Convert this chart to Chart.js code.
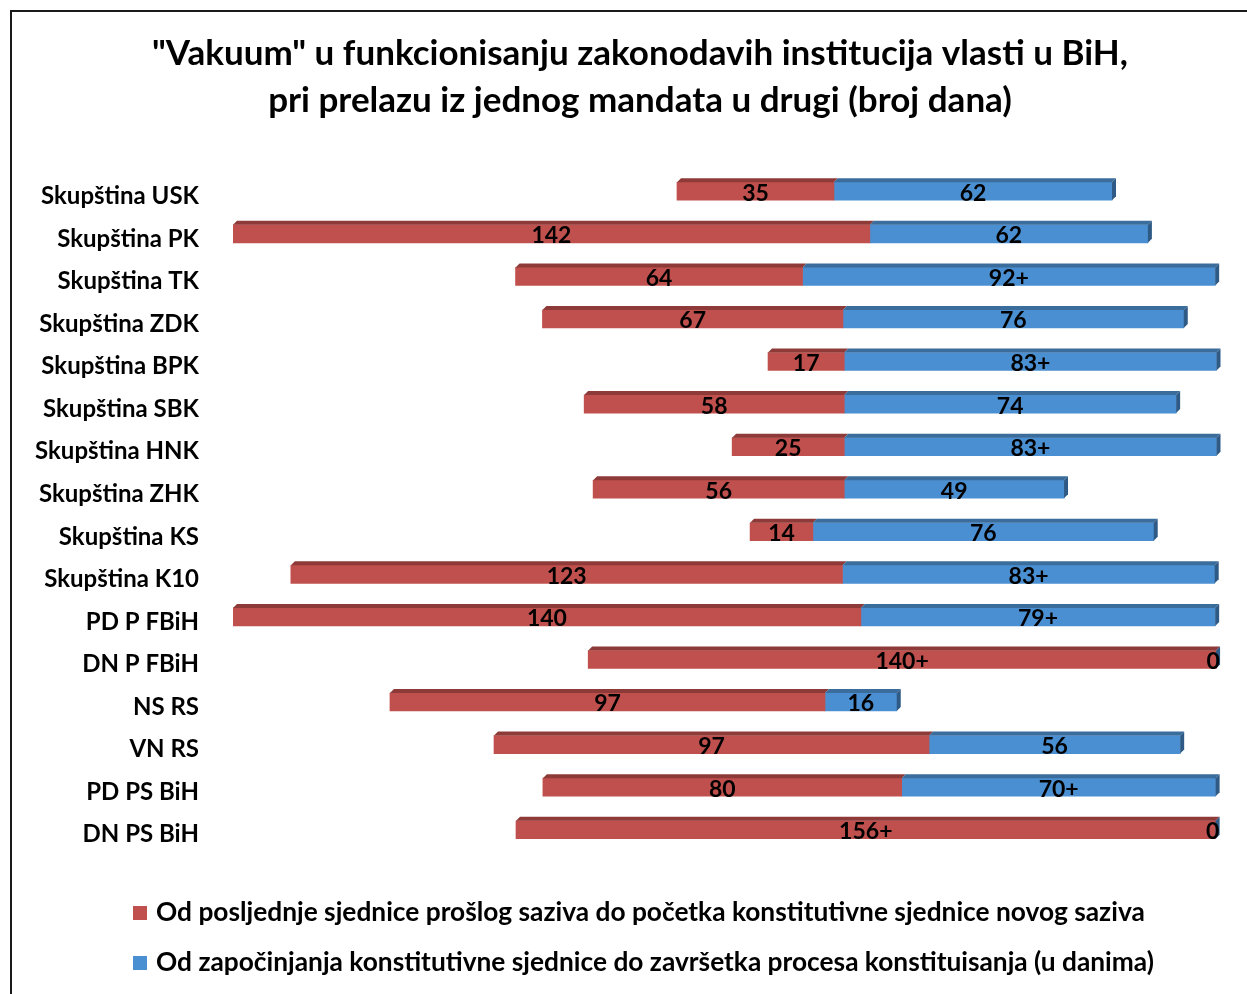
<!DOCTYPE html>
<html lang="bs">
<head>
    <meta charset="UTF-8">
    <title>Vakuum u funkcionisanju zakonodavnih institucija</title>
    <style>
        body { margin: 0; background: #fff; }
        canvas { display: block; }
    </style>
</head>
<body>
    <canvas id="chart" width="1247" height="994"></canvas>

    <script src="https://cdn.jsdelivr.net/npm/chart.js@4.4.0/dist/chart.umd.min.js"></script>
    <script>
        const categories = ['Skupština USK', 'Skupština PK', 'Skupština TK', 'Skupština ZDK', 'Skupština BPK',
            'Skupština SBK', 'Skupština HNK', 'Skupština ZHK', 'Skupština KS', 'Skupština K10',
            'PD P FBiH', 'DN P FBiH', 'NS RS', 'VN RS', 'PD PS BiH', 'DN PS BiH'];
        // invisible lead-in segment (days)
        const offsetDays = [99, 0, 63, 69, 119.3, 78.3, 111.3, 80.3, 115.3, 12.9, 0, 79.2, 35, 58.2, 69.1, 63.1];
        const redDays = [35, 142, 64, 67, 17, 58, 25, 56, 14, 123, 140, 140, 97, 97, 80, 156];
        const blueDays = [62, 62, 92, 76, 83, 74, 83, 49, 76, 83, 79, 0, 16, 56, 70, 0];
        const redLabels = ['35', '142', '64', '67', '17', '58', '25', '56', '14', '123', '140', '140+', '97', '97', '80', '156+'];
        const blueLabels = ['62', '62', '92+', '76', '83+', '74', '83+', '49', '76', '83+', '79+', '0', '16', '56', '70+', '0'];
        const seriesNames = [
            'Od posljednje sjednice prošlog saziva do početka konstitutivne sjednice novog saziva',
            'Od započinjanja konstitutivne sjednice do završetka procesa konstituisanja (u danima)'
        ];
        const titleLines = [
            '"Vakuum" u funkcionisanju zakonodavih institucija vlasti u BiH,',
            'pri prelazu iz jednog mandata u drugi (broj dana)'
        ];

        const RED = '#C0504D', RED_TOP = '#8E3A38';
        const BLUE = '#4A8FD1', BLUE_TOP = '#3A6C9C', BLUE_SIDE = '#2F5A85';
        const FONT = 'Lato';

        // white page + the outer frame (left and top edge)
        const framePlugin = {
            id: 'frame',
            beforeDraw(chart) {
                const ctx = chart.ctx;
                ctx.save();
                ctx.fillStyle = '#fff';
                ctx.fillRect(0, 0, chart.width, chart.height);
                ctx.strokeStyle = '#1a1a1a';
                ctx.lineWidth = 2;
                ctx.beginPath();
                ctx.moveTo(11, chart.height);
                ctx.lineTo(11, 11);
                ctx.lineTo(chart.width, 11);
                ctx.stroke();
                ctx.restore();
            }
        };

        // fake 3D: top face on every segment, side face on the last one
        const bar3dPlugin = {
            id: 'bar3d',
            afterDatasetsDraw(chart) {
                const ctx = chart.ctx;
                const d = 4;
                const tops = [null, RED_TOP, BLUE_TOP];
                ctx.save();
                [1, 2].forEach(di => {
                    chart.getDatasetMeta(di).data.forEach(el => {
                        const p = el.getProps(['x', 'y', 'base', 'height'], true);
                        const left = Math.min(p.x, p.base), right = Math.max(p.x, p.base);
                        const top = p.y - p.height / 2, bottom = p.y + p.height / 2;
                        if (right - left > 0) {
                            ctx.fillStyle = tops[di];
                            ctx.beginPath();
                            ctx.moveTo(left, top);
                            ctx.lineTo(left + d, top - d);
                            ctx.lineTo(right + d, top - d);
                            ctx.lineTo(right, top);
                            ctx.closePath();
                            ctx.fill();
                        }
                        if (di === 2) {
                            ctx.fillStyle = BLUE_SIDE;
                            ctx.beginPath();
                            ctx.moveTo(right, top);
                            ctx.lineTo(right + d, top - d);
                            ctx.lineTo(right + d, bottom - d);
                            ctx.lineTo(right, bottom);
                            ctx.closePath();
                            ctx.fill();
                        }
                    });
                });
                ctx.restore();
            }
        };

        // value labels in the middle of each segment
        const valueLabelPlugin = {
            id: 'valueLabels',
            afterDatasetsDraw(chart) {
                const ctx = chart.ctx;
                const texts = [null, redLabels, blueLabels];
                ctx.save();
                ctx.font = 'bold 23px ' + FONT;
                ctx.fillStyle = '#000';
                ctx.textAlign = 'center';
                ctx.textBaseline = 'middle';
                [1, 2].forEach(di => {
                    chart.getDatasetMeta(di).data.forEach((el, i) => {
                        const p = el.getProps(['x', 'y', 'base'], true);
                        let cx = (p.x + p.base) / 2;
                        if (Math.abs(p.x - p.base) < 1) cx -= 3;
                        ctx.fillText(texts[di][i], cx, p.y + 2);
                    });
                });
                ctx.restore();
            }
        };

        // legend below the plot, one series per line
        const legendPlugin = {
            id: 'sideLegend',
            afterDraw(chart) {
                const ctx = chart.ctx;
                const rows = [{ y: 913, color: RED }, { y: 963, color: BLUE }];
                ctx.save();
                ctx.font = 'bold 26.3px ' + FONT;
                ctx.textBaseline = 'middle';
                rows.forEach((r, i) => {
                    ctx.fillStyle = r.color;
                    ctx.fillRect(133, r.y - 7, 14, 14);
                    ctx.fillStyle = '#000';
                    ctx.fillText(chart.data.datasets[i + 1].label, 156, r.y);
                });
                ctx.restore();
            }
        };

        const ctx = document.getElementById('chart').getContext('2d');
        new Chart(ctx, {
            type: 'bar',
            data: {
                labels: categories,
                datasets: [
                    { label: 'offset', data: offsetDays, backgroundColor: 'rgba(0,0,0,0)', barThickness: 18 },
                    { label: seriesNames[0], data: redDays, backgroundColor: RED, barThickness: 18 },
                    { label: seriesNames[1], data: blueDays, backgroundColor: BLUE, barThickness: 18 }
                ]
            },
            options: {
                indexAxis: 'y',
                responsive: false,
                animation: false,
                layout: { padding: { left: 33, right: 0, top: 10, bottom: 143 } },
                scales: {
                    // 219 days lands at the bars' common right edge
                    x: { stacked: true, min: 0, max: 226.1, display: false },
                    y: {
                        stacked: true,
                        grid: { display: false, drawTicks: false },
                        border: { display: false },
                        ticks: {
                            color: '#000',
                            font: { family: FONT, size: 24, weight: 'bold' },
                            padding: 34,
                            labelOffset: 5
                        },
                        afterFit(scale) { scale.width = 200; }
                    }
                },
                plugins: {
                    legend: { display: false },
                    tooltip: { enabled: false },
                    title: {
                        display: true,
                        text: titleLines,
                        color: '#000',
                        font: { family: FONT, size: 35, weight: 'bold', lineHeight: 1.343 },
                        padding: { top: 20, bottom: 46 }
                    }
                }
            },
            plugins: [framePlugin, bar3dPlugin, valueLabelPlugin, legendPlugin]
        });
    </script>
</body>
</html>
